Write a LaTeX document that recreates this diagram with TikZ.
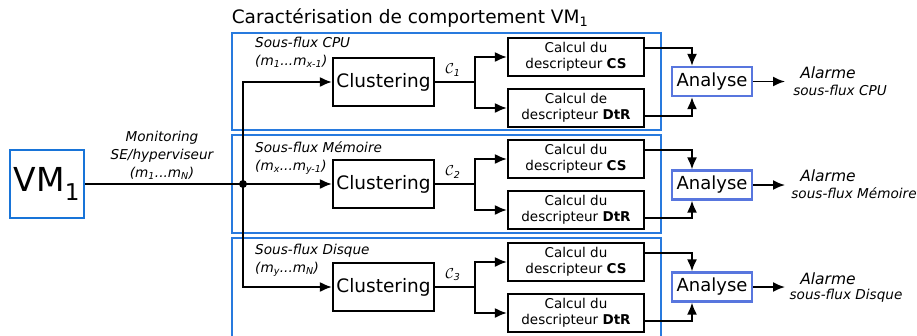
\documentclass[tikz,border=0pt]{standalone}
\usepackage{fontspec}
\setmainfont{DejaVu Sans}
\usetikzlibrary{arrows.meta}
\definecolor{bleuvm}{RGB}{24,116,216}
\definecolor{bleucadre}{RGB}{40,122,222}
\definecolor{bleuan}{RGB}{88,118,222}
\tikzset{
  boite/.style={draw, line width=2.2pt, minimum width=101pt, minimum height=48pt, inner sep=0pt, font=\fontsize{18.5}{18.5}\selectfont},
  calcul/.style={draw, line width=2.2pt, minimum width=136pt, minimum height=38pt, inner sep=0pt, align=center, font=\fontsize{13.5}{16}\selectfont},
  analyse/.style={draw=bleuan, line width=2.2pt, minimum width=80pt, minimum height=29pt, inner sep=0pt, font=\fontsize{18}{18}\selectfont},
  cadre/.style={draw=bleucadre, line width=1.4pt},
  fleche/.style={line width=1.8pt, -{Latex[length=12pt,width=10pt]}},
  trait/.style={line width=1.8pt},
  legende/.style={font=\itshape\fontsize{13.6}{18}\selectfont, inner sep=0pt},
}
\newcommand{\sub}[1]{\textsubscript{#1}}
\begin{document}
\begin{tikzpicture}[x=1pt,y=-1pt]
  \clip (0,0) rectangle (917,335);
  \node (titre) at (410,18) {\fontsize{18.5}{18.5}\selectfont Caractérisation de comportement VM\sub{1}};
  % cadres des sous-flux
  \draw[cadre] (232,33) rectangle (661,130);
  \draw[cadre] (232,135) rectangle (661,233);
  \draw[cadre] (232,238) rectangle (661,345);
  % VM et monitoring
  \node[draw=bleuvm, line width=2.2pt, minimum width=74pt, minimum height=68pt, inner sep=0pt, font=\fontsize{33}{33}\selectfont] (vm) at (47,184) {VM\sub{1}};
  \node[legende, align=center] (moni) at (162,155) {Monitoring\\SE/hyperviseur\\(m\sub{1}...m\sub{N})};
  \coordinate (split) at (243,184);
  % clustering
  \node[boite] (cl1) at (383.5,82) {Clustering};
  \node[boite] (cl2) at (383.5,184) {Clustering};
  \node[boite] (cl3) at (383.5,287) {Clustering};
  \node[legende, align=left, anchor=north west] (sf1) at (255,37) {Sous-flux CPU\\(m\sub{1}...m\sub{x-1})};
  \node[legende, align=left, anchor=north west] (sf2) at (255,141) {Sous-flux Mémoire\\(m\sub{x}...m\sub{y-1})};
  \node[legende, align=left, anchor=north west] (sf3) at (255,244) {Sous-flux Disque\\(m\sub{y}...m\sub{N})};
  \node[legende] (c1) at (453,70) {$\mathcal{C}$\sub{1}};
  \node[legende] (c2) at (453,172) {$\mathcal{C}$\sub{2}};
  \node[legende] (c3) at (453,275) {$\mathcal{C}$\sub{3}};
  % descripteurs
  \node[calcul] (cs1) at (576,57) {Calcul du\\descripteur \textbf{CS}};
  \node[calcul] (dtr1) at (576,108) {Calcul de\\descripteur \textbf{DtR}};
  \node[calcul] (cs2) at (576,159) {Calcul du\\descripteur \textbf{CS}};
  \node[calcul] (dtr2) at (576,210) {Calcul du\\descripteur \textbf{DtR}};
  \node[calcul] (cs3) at (576,262) {Calcul du\\descripteur \textbf{CS}};
  \node[calcul] (dtr3) at (576,313) {Calcul du\\descripteur \textbf{DtR}};
  % analyse
  \node[analyse] (an1) at (712,81.5) {Analyse};
  \node[analyse] (an2) at (712,185) {Analyse};
  \node[analyse] (an3) at (712,287) {Analyse};
  \node[font=\itshape\fontsize{15.5}{15.5}\selectfont, inner sep=0pt] (al1) at (828,73) {Alarme};
  \node[legende] (sa1) at (840,90) {sous-flux CPU};
  \node[font=\itshape\fontsize{15.5}{15.5}\selectfont, inner sep=0pt] (al2) at (828,176) {Alarme};
  \node[legende] (sa2) at (854,193) {sous-flux Mémoire};
  \node[font=\itshape\fontsize{15.5}{15.5}\selectfont, inner sep=0pt] (al3) at (828,279) {Alarme};
  \node[legende] (sa3) at (846,296) {sous-flux Disque};
  \coordinate (s1) at (785,81.5);
  \coordinate (s2) at (785,185);
  \coordinate (s3) at (785,287);
  % liaisons
  \draw[trait] (vm) -- (split);
  \fill (split) circle (4);
  \draw[fleche] (split) -- (cl2);
  \draw[fleche] (split) |- (cl1);
  \draw[fleche] (split) |- (cl3);
  \foreach \i in {1,2,3} {
    \coordinate (b\i) at ([xshift=40pt]cl\i.east);
    \draw[trait] (cl\i) -- (b\i);
    \draw[fleche] (b\i) |- (cs\i);
    \draw[fleche] (b\i) |- (dtr\i);
    \draw[fleche] ([yshift=9pt]cs\i.east) -| ([xshift=-20pt]an\i.north);
    \draw[fleche] ([yshift=-8pt]dtr\i.east) -| ([xshift=-20pt]an\i.south);
    \draw[fleche] (an\i) -- (s\i);
  }
\end{tikzpicture}
\end{document}
